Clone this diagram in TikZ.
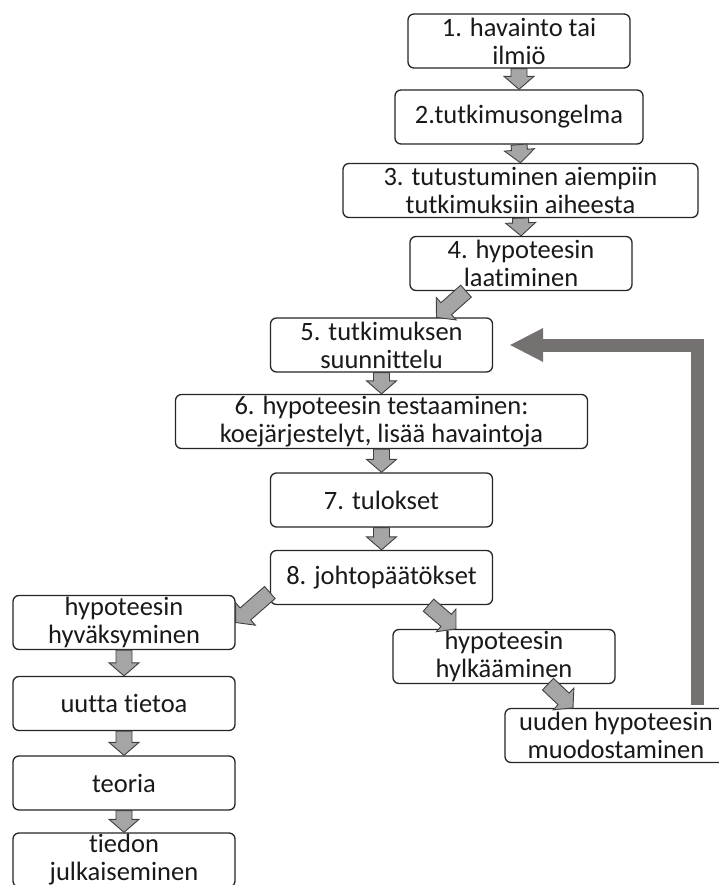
\documentclass[tikz,border=0pt]{standalone}
\usepackage{fontspec}
\setmainfont{Carlito}[Ligatures=NoCommon]
\usetikzlibrary{calc,arrows.meta}
\definecolor{flowfill}{RGB}{165,165,165}
\definecolor{flowedge}{RGB}{64,64,64}
\definecolor{backgray}{RGB}{118,113,113}
\newcommand{\fatarrow}[2]{%
  \coordinate (fa-h) at ($(#2)!13pt!(#1)$);
  \draw[fatarrow] ($(#1)!8pt!90:(#2)$) -- ($(fa-h)!8pt!90:(#2)$) -- ($(fa-h)!15pt!90:(#2)$) -- (#2)
    -- ($(fa-h)!15pt!-90:(#2)$) -- ($(fa-h)!8pt!-90:(#2)$) -- ($(#1)!8pt!-90:(#2)$) -- cycle;
}

\begin{document}
\begin{tikzpicture}[x=1pt,y=-1pt,
  stepbox/.style={draw=black!85, line width=1.3pt, rounded corners=6pt, fill=white,
    minimum width=222pt, minimum height=54pt, inner sep=0pt, align=center,
    font=\fontsize{26.5}{28}\selectfont, text=black!90},
  fatarrow/.style={draw=flowedge, fill=flowfill, line width=0.9pt},
  backarrow/.style={draw=backgray, line width=13pt, -{Triangle[width=34pt,length=33pt,line width=0pt]}}]
\useasboundingbox (0,0) rectangle (719,885);

\node[stepbox] (havainto) at (519,41) {1. havainto tai\\ilmiö};
\node[stepbox, minimum width=248pt] (ongelma) at (519,117) {2.tutkimusongelma};
\node[stepbox, minimum width=355pt] (aiemmat) at (520.5,190.5) {3. tutustuminen aiempiin\\tutkimuksiin aiheesta};
\node[stepbox] (hypoteesi) at (521,263.5) {4. hypoteesin\\laatiminen};
\node[stepbox] (suunnittelu) at (381.5,345) {5. tutkimuksen\\suunnittelu};
\node[stepbox, minimum width=412pt] (testaus) at (381.5,421.5) {6. hypoteesin testaaminen:\\koejärjestelyt, lisää havaintoja};
\node[stepbox] (tulokset) at (381.5,500) {7. tulokset};
\node[stepbox] (johto) at (381.5,577.5) {8. johtopäätökset};
\node[stepbox] (hyvaksy) at (124,622.5) {hypoteesin\\hyväksyminen};
\node[stepbox] (hylkaa) at (504,656.5) {hypoteesin\\hylkääminen};
\node[stepbox] (uusi) at (616,735.5) {uuden hypoteesin\\muodostaminen};
\node[stepbox] (tieto) at (124,703.5) {uutta tietoa};
\node[stepbox] (teoria) at (124,783) {teoria};
\node[stepbox] (julkaisu) at (124,860) {tiedon\\julkaiseminen};

\fatarrow{havainto.south}{ongelma.north}
\fatarrow{ongelma.south}{aiemmat.north}
\fatarrow{aiemmat.south}{hypoteesi.north}
\fatarrow{[xshift=-55pt]hypoteesi.south}{[xshift=55pt]suunnittelu.north}
\fatarrow{suunnittelu.south}{testaus.north}
\fatarrow{testaus.south}{tulokset.north}
\fatarrow{tulokset.south}{johto.north}
\fatarrow{[yshift=-15pt]johto.west}{hyvaksy.east}
\fatarrow{[xshift=47pt]johto.south}{[xshift=-48pt]hylkaa.north}
\fatarrow{[xshift=44pt]hylkaa.south}{[xshift=-43pt]uusi.north}
\fatarrow{hyvaksy.south}{tieto.north}
\fatarrow{tieto.south}{teoria.north}
\fatarrow{teoria.south}{julkaisu.north}

\coordinate (paluu) at ([xshift=81pt,yshift=3pt]uusi.north);
\draw[backarrow] (paluu) |- ([xshift=17pt]suunnittelu.east);
\end{tikzpicture}
\end{document}
